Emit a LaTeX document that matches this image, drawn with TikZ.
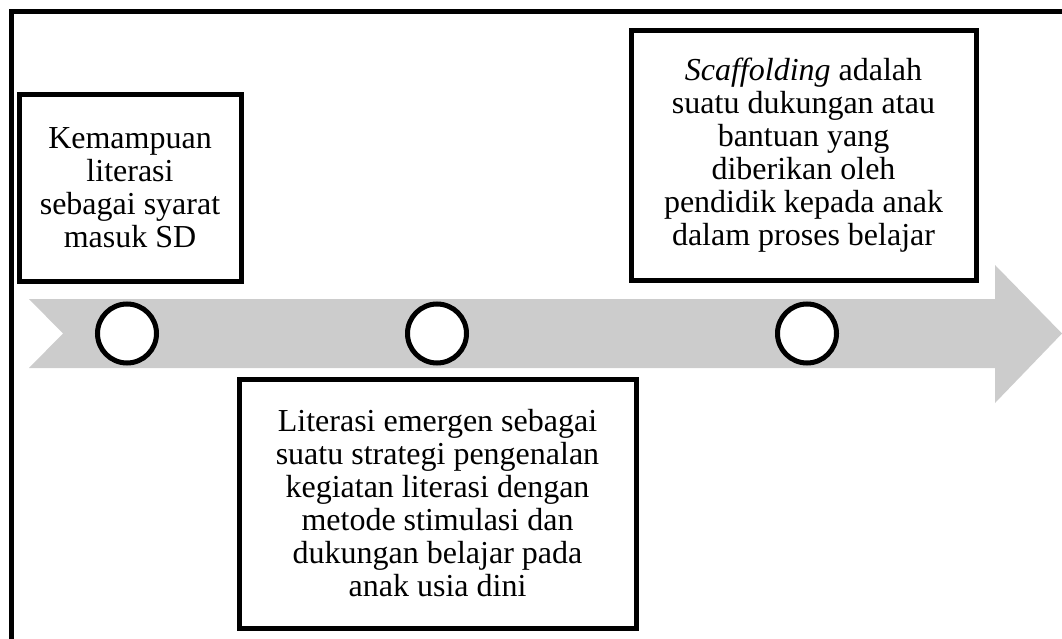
\documentclass[tikz,border=0pt]{standalone}
\usepackage{fontspec}
\setmainfont{Liberation Serif}
\definecolor{arrowgray}{HTML}{CCCCCC}
\begin{document}
\begin{tikzpicture}[x=1pt,y=-1pt,
  box/.style={draw=black,line width=5pt,fill=white,inner sep=0pt,align=center,
    font=\fontsize{32}{33}\selectfont},
  dot/.style={circle,draw=black,line width=5pt,fill=white,minimum size=59pt,inner sep=0pt}]
\useasboundingbox (0,0) rectangle (1062,639);
\begin{scope}
\clip (0,0) rectangle (1062,639);
% frame
\draw[line width=5pt] (11.5,660) -- (11.5,11.5) -- (1080,11.5);
% arrow
\fill[arrowgray] (29,299) -- (995,299) -- (995,265) -- (1062,333.5) -- (995,403) -- (995,368) -- (29,368) -- (63,333.5) -- cycle;
\end{scope}
% circles
\node[dot] (c1) at (127,333.5) {};
\node[dot] (c2) at (437,333.5) {};
\node[dot] (c3) at (807,333.5) {};
% boxes
\node[box,minimum width=222pt,minimum height=186pt] (b1) at (130,188) {Kemampuan\\literasi\\sebagai syarat\\masuk SD};
\node[box,minimum width=397pt,minimum height=249pt] (b2) at (437.5,503.5) {Literasi emergen sebagai\\suatu strategi pengenalan\\kegiatan literasi dengan\\metode stimulasi dan\\dukungan belajar pada\\anak usia dini};
\node[box,minimum width=345pt,minimum height=249pt] (b3) at (803.5,155.5) {\textit{Scaffolding} adalah\\suatu dukungan atau\\bantuan yang\\diberikan oleh\\pendidik kepada anak\\dalam proses belajar};
\end{tikzpicture}
\end{document}
